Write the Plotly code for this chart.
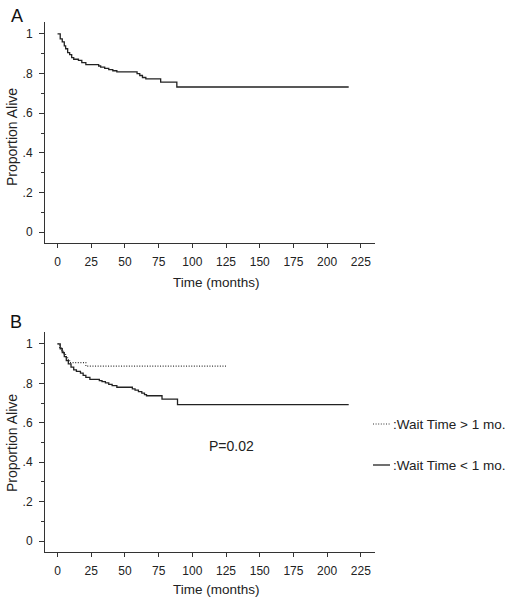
import plotly.graph_objects as go

# ---- data ----
# Panel A: all patients
time_all = [0, 2, 3.5, 5, 6, 7.5, 9, 10.5, 12, 15.5, 18, 21, 30.5, 32, 35, 38, 41, 44,
            59, 61, 63, 65.5, 76.5, 88.5, 216]
surv_all = [1, 0.975, 0.96, 0.94, 0.925, 0.905, 0.895, 0.88, 0.872, 0.866, 0.855, 0.845,
            0.838, 0.832, 0.826, 0.82, 0.814, 0.808, 0.8, 0.79, 0.78, 0.773, 0.757, 0.732, 0.732]

# Panel B: wait time < 1 month (solid)
time_lt1 = [0, 2, 3.5, 5, 6.5, 8, 10, 12, 14, 17, 19, 21, 24, 31, 33, 35.5, 38, 40.5, 44,
            55.5, 57.5, 60, 62.5, 64.5, 66, 77.5, 89, 216]
surv_lt1 = [1, 0.975, 0.955, 0.935, 0.915, 0.898, 0.882, 0.868, 0.86, 0.852, 0.84, 0.83,
            0.82, 0.814, 0.808, 0.802, 0.795, 0.788, 0.78, 0.772, 0.765, 0.758, 0.75, 0.743,
            0.737, 0.72, 0.692, 0.692]

# Panel B: wait time > 1 month (dotted)
time_gt1 = [0, 1.5, 3, 4.5, 6, 7.5, 9, 21, 125]
surv_gt1 = [1, 0.98, 0.965, 0.95, 0.935, 0.92, 0.905, 0.887, 0.887]

x_ticks = [0, 25, 50, 75, 100, 125, 150, 175, 200, 225]
y_ticks = [0, 0.2, 0.4, 0.6, 0.8, 1]
y_ticktext = ["0", ".2", ".4", ".6", ".8", "1"]
y_minor = [0.1, 0.3, 0.5, 0.7, 0.9]

legend_labels = [":Wait Time > 1 mo.", ":Wait Time < 1 mo."]
p_value_text = "P=0.02"

# ---- figure ----
W, H = 517, 600
FONT = "Liberation Sans, Arial, Helvetica, sans-serif"
INK = "#222222"
AX = "#333333"
DOT = "1px,1.6px"

fig = go.Figure()

fig.add_trace(go.Scatter(x=time_all, y=surv_all, mode="lines", line_shape="hv",
                         line=dict(color=INK, width=1.3), xaxis="x", yaxis="y",
                         showlegend=False, hoverinfo="skip"))
fig.add_trace(go.Scatter(x=time_gt1, y=surv_gt1, mode="lines", line_shape="hv",
                         line=dict(color=AX, width=1.1, dash=DOT), xaxis="x2", yaxis="y2",
                         showlegend=False, hoverinfo="skip"))
fig.add_trace(go.Scatter(x=time_lt1, y=surv_lt1, mode="lines", line_shape="hv",
                         line=dict(color=INK, width=1.3), xaxis="x2", yaxis="y2",
                         showlegend=False, hoverinfo="skip"))

def px_x(p):
    return p / W

def px_y(p):
    return 1 - p / H

xdom = [px_x(45), px_x(375)]
xr = [-9.3, 235.5]
yr = [-0.055, 1.06]

xaxis_common = dict(range=xr, domain=xdom, showline=True, linecolor=AX, linewidth=1,
                    ticks="outside", ticklen=4, tickcolor=AX, tickwidth=1,
                    tickmode="array", tickvals=x_ticks, showgrid=False, zeroline=False,
                    tickfont=dict(family=FONT, size=12, color=INK), ticklabelstandoff=4)
yaxis_common = dict(range=yr, showline=True, linecolor=AX, linewidth=1,
                    ticks="outside", ticklen=5, tickcolor=AX, tickwidth=1,
                    tickmode="array", tickvals=y_ticks, ticktext=y_ticktext,
                    minor=dict(tickmode="array", tickvals=y_minor, ticks="outside",
                               ticklen=3, tickcolor=AX, tickwidth=1, showgrid=False),
                    showgrid=False, zeroline=False,
                    tickfont=dict(family=FONT, size=12, color=INK), ticklabelstandoff=4)

fig.update_layout(
    width=W, height=H,
    margin=dict(l=0, r=0, t=0, b=0),
    paper_bgcolor="white", plot_bgcolor="white",
    xaxis=dict(xaxis_common, anchor="y"),
    yaxis=dict(yaxis_common, domain=[px_y(243), px_y(22)], anchor="x"),
    xaxis2=dict(xaxis_common, anchor="y2"),
    yaxis2=dict(yaxis_common, domain=[px_y(552), px_y(332)], anchor="x2"),
)

ann = []
# panel letters
ann.append(dict(text="A", x=px_x(9), y=px_y(16), xref="paper", yref="paper",
                xanchor="left", yanchor="middle", showarrow=False,
                font=dict(family=FONT, size=18, color="#111")))
ann.append(dict(text="B", x=px_x(8), y=px_y(322), xref="paper", yref="paper",
                xanchor="left", yanchor="middle", showarrow=False,
                font=dict(family=FONT, size=18, color="#111")))
# axis titles
for ymid, ytitle in [(137, 282), (443, 589)]:
    ann.append(dict(text="Proportion Alive", x=px_x(12), y=px_y(ymid), xref="paper",
                    yref="paper", textangle=-90, xanchor="center", yanchor="middle",
                    showarrow=False, font=dict(family=FONT, size=14, color=INK)))
    ann.append(dict(text="Time (months)", x=px_x(216), y=px_y(ytitle), xref="paper",
                    yref="paper", xanchor="center", yanchor="middle",
                    showarrow=False, font=dict(family=FONT, size=13.5, color=INK)))
# p-value
ann.append(dict(text=p_value_text, x=px_x(231), y=px_y(446), xref="paper", yref="paper",
                xanchor="center", yanchor="middle", showarrow=False,
                font=dict(family=FONT, size=14, color=INK)))
# legend texts
for lab, yy in zip(legend_labels, [424, 465]):
    ann.append(dict(text=lab, x=px_x(391), y=px_y(yy), xref="paper", yref="paper",
                    xanchor="left", yanchor="middle", showarrow=False,
                    font=dict(family=FONT, size=13.5, color=INK)))
fig.update_layout(annotations=ann)

# legend sample lines
fig.add_shape(type="line", xref="paper", yref="paper", x0=px_x(373), x1=px_x(390),
              y0=px_y(424), y1=px_y(424), line=dict(color=AX, width=1, dash=DOT))
fig.add_shape(type="line", xref="paper", yref="paper", x0=px_x(373), x1=px_x(390),
              y0=px_y(465), y1=px_y(465), line=dict(color=INK, width=1.3))

fig.write_html("out.html",
               config={"displayModeBar": False},
               post_script="document.body.style.margin='0';document.body.style.overflow='hidden';")
